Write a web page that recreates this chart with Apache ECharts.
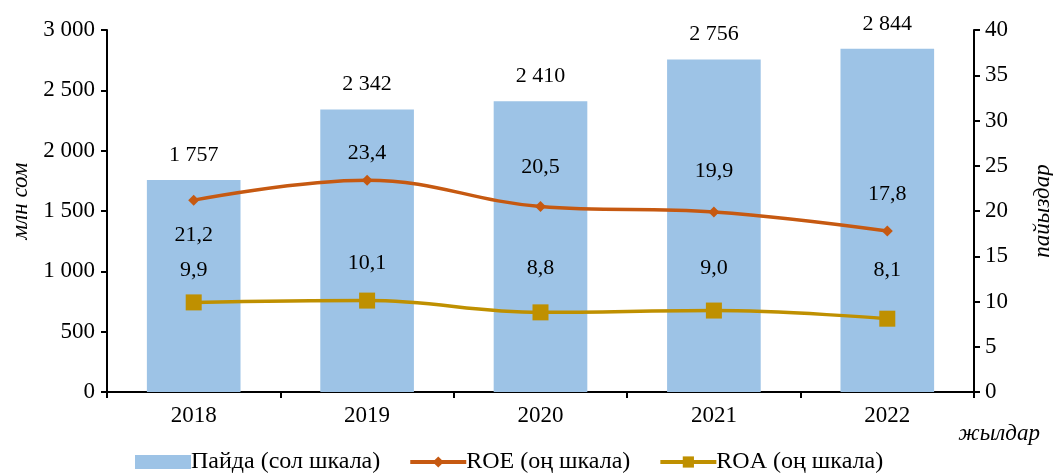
<!DOCTYPE html>
<html><head><meta charset="utf-8">
<script src="https://cdn.jsdelivr.net/npm/echarts@6/dist/echarts.min.js"></script>
<style>html,body{margin:0;padding:0;background:#fff}#c{width:1053px;height:473px}</style>
</head><body><div id="c"></div>
<script>
const years = ['2018','2019','2020','2021','2022'];
const profit = [1757, 2342, 2410, 2756, 2844];
const roe = [21.2, 23.4, 20.5, 19.9, 17.8];
const roa = [9.9, 10.1, 8.8, 9.0, 8.1];
const leftTicks = [0, 500, 1000, 1500, 2000, 2500, 3000];
const rightTicks = [0, 5, 10, 15, 20, 25, 30, 35, 40];

const roeLabelPos = ['bottom','top','top','top','top'];
const roeLabelDist = [19, 11, 23, 24, 20];
const roaLabelDist = [13, 18, 25, 23, 29];

const F = 'Liberation Serif, Times New Roman, serif';
const fmt = v => String(v).replace(/\B(?=(\d{3})+(?!\d))/g, ' ');
const dec = v => v.toFixed(1).replace('.', ',');
const AX = 23, LB = 22, LG = 24;

const chart = echarts.init(document.getElementById('c'));
chart.setOption({
  animation:false,
  textStyle:{fontFamily:F},
  grid:{left:107,right:79,top:30,bottom:81,outerBoundsMode:'none',containLabel:false},
  legend:{
    bottom:-6, left:130, itemGap:28, itemWidth:56, itemHeight:14,
    lineStyle:{width:4},
    textStyle:{fontFamily:F,fontSize:LG,color:'#000',padding:[0,0,0,-5]},
    data:[{name:'Пайда (сол шкала)',icon:'rect'},{name:'ROE (оң шкала)'},{name:'ROA (оң шкала)'}]
  },
  xAxis:{
    type:'category', data:years,
    axisLine:{lineStyle:{color:'#000',width:2}},
    axisTick:{show:true,length:6,lineStyle:{color:'#000',width:2},alignWithLabel:false},
    axisLabel:{fontFamily:F,fontSize:AX,color:'#000',margin:12},
    name:'жылдар', nameLocation:'end', nameGap:0,
    nameTextStyle:{fontFamily:F,fontSize:AX,fontStyle:'italic',color:'#000',align:'right',verticalAlign:'top',padding:[30,-66,0,0]}
  },
  yAxis:[{
    type:'value', min:leftTicks[0], max:leftTicks[leftTicks.length-1], interval:500,
    axisLine:{show:true,lineStyle:{color:'#000',width:2}},
    axisTick:{show:true,length:6,lineStyle:{color:'#000',width:2}},
    splitLine:{show:false},
    axisLabel:{fontFamily:F,fontSize:AX,color:'#000',margin:12,formatter:fmt},
    name:'млн сом', nameLocation:'middle', nameGap:63, nameRotate:90,
    nameTextStyle:{fontFamily:F,fontSize:AX,fontStyle:'italic',color:'#000',padding:[0,0,0,20]}
  },{
    type:'value', min:rightTicks[0], max:rightTicks[rightTicks.length-1], interval:5,
    axisLine:{show:true,lineStyle:{color:'#000',width:2}},
    axisTick:{show:true,length:6,lineStyle:{color:'#000',width:2}},
    splitLine:{show:false},
    axisLabel:{fontFamily:F,fontSize:AX,color:'#000',margin:11},
    name:'пайыздар', nameLocation:'middle', nameGap:57, nameRotate:90,
    nameTextStyle:{fontFamily:F,fontSize:AX,fontStyle:'italic',color:'#000'}
  }],
  series:[{
    name:'Пайда (сол шкала)', type:'bar', data:profit, barWidth:'54%',
    itemStyle:{color:'#9DC3E6'},
    label:{show:true,position:'top',distance:14,fontFamily:F,fontSize:LB,color:'#000',formatter:p=>fmt(p.value)}
  },{
    name:'ROE (оң шкала)', type:'line', yAxisIndex:1, smooth:0.4,
    data:roe.map((v,i)=>({value:v,label:{position:roeLabelPos[i],distance:roeLabelDist[i]}})),
    lineStyle:{color:'#C65911',width:3.5}, itemStyle:{color:'#C65911'},
    symbol:'diamond', symbolSize:11,
    label:{show:true,fontFamily:F,fontSize:LB,color:'#000',formatter:p=>dec(p.value)}
  },{
    name:'ROA (оң шкала)', type:'line', yAxisIndex:1, smooth:0.4,
    data:roa.map((v,i)=>({value:v,label:{distance:roaLabelDist[i]}})),
    lineStyle:{color:'#BF9000',width:3.5}, itemStyle:{color:'#BF9000'},
    symbol:'rect', symbolSize:16,
    label:{show:true,position:'top',fontFamily:F,fontSize:LB,color:'#000',formatter:p=>dec(p.value)}
  }]
});
</script></body></html>
